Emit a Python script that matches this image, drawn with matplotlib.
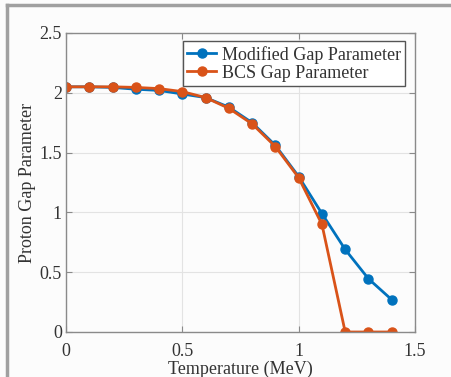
import matplotlib
matplotlib.use('Agg')
from matplotlib import pyplot as plt
from matplotlib.lines import Line2D

temperature = [0.0, 0.1, 0.2, 0.3, 0.4, 0.5, 0.6, 0.7, 0.8, 0.9, 1.0, 1.1, 1.2, 1.3, 1.4]
modified_gap = [2.05, 2.05, 2.045, 2.03, 2.02, 1.99, 1.96, 1.88, 1.75, 1.56, 1.30, 0.99, 0.69, 0.445, 0.27]
bcs_gap = [2.05, 2.05, 2.05, 2.045, 2.035, 2.01, 1.96, 1.87, 1.74, 1.55, 1.29, 0.90, 0.0, 0.0, 0.0]

plt.rcParams['font.family'] = ['Liberation Serif', 'DejaVu Serif']
plt.rcParams['font.size'] = 13

fig = plt.figure(figsize=(4.52, 3.77), dpi=100, facecolor='#fcfcfc')
ax = fig.add_axes([66 / 452, 1 - 332 / 377, (415 - 66) / 452, (332 - 33) / 377])
ax.set_facecolor('#fcfcfc')

ax.plot(temperature, modified_gap, '-o', color='#0072BD', lw=2, ms=6.5, label='Modified Gap Parameter')
ax.plot(temperature, bcs_gap, '-o', color='#D95319', lw=2, ms=6.5, label='BCS Gap Parameter')

ax.set_xlim(0, 1.5)
ax.set_ylim(0, 2.5)
ax.set_xticks([0, 0.5, 1, 1.5])
ax.set_xticklabels(['0', '0.5', '1', '1.5'])
ax.set_yticks([0, 0.5, 1, 1.5, 2, 2.5])
ax.set_yticklabels(['0', '0.5', '1', '1.5', '2', '2.5'])
ax.grid(True, color='#e3e3e3', lw=0.8)
ax.set_axisbelow(True)
for s in ax.spines.values():
    s.set_color('#8a8a8a')
    s.set_linewidth(1)
ax.tick_params(direction='in', top=True, right=True, color='#8a8a8a', labelcolor='#333333', length=4)
ax.tick_params(axis='x', pad=8)
ax.tick_params(axis='y', pad=3)
ax.set_xlabel('Temperature (MeV)', color='#333333', va='center')
ax.set_ylabel('Proton Gap Parameter', color='#333333', va='center')
ax.xaxis.set_label_coords(0.5, (332 - 369) / 299)
ax.yaxis.set_label_coords((27 - 66) / 349, 0.5)

leg = ax.legend(loc='upper right', bbox_to_anchor=(0.972, 0.972), fancybox=False, framealpha=1,
                edgecolor='#555555', borderpad=0.25, labelspacing=0.05, handlelength=1.6,
                handletextpad=0.3, borderaxespad=0)
for t in leg.get_texts():
    t.set_color('#333333')

# cropped outer frame lines
fig.add_artist(Line2D([7 / 452, 1], [1 - 5 / 377, 1 - 5 / 377], color='#a0a0a0', lw=2.5, transform=fig.transFigure))
fig.add_artist(Line2D([7 / 452, 7 / 452], [0, 1 - 5 / 377], color='#a0a0a0', lw=2.5, transform=fig.transFigure))

fig.savefig('out.png', dpi=100, facecolor=fig.get_facecolor())
